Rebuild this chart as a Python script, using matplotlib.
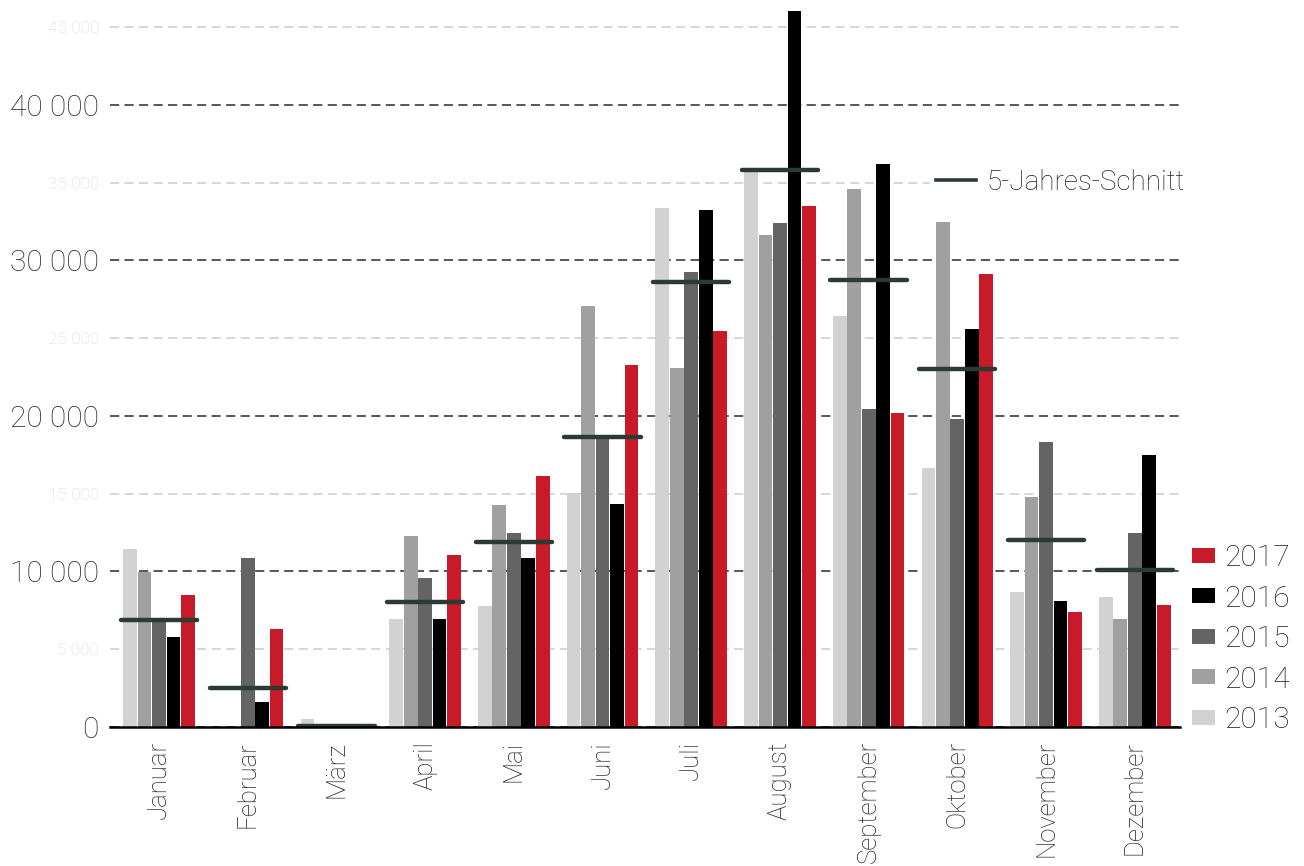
import matplotlib
matplotlib.use("Agg")
import matplotlib.pyplot as plt
from matplotlib.lines import Line2D
from matplotlib.ticker import FuncFormatter, MultipleLocator
import numpy as np

months = ["Januar", "Februar", "März", "April", "Mai", "Juni", "Juli",
          "August", "September", "Oktober", "November", "Dezember"]
years = ["2013", "2014", "2015", "2016", "2017"]

v2013 = [11450, 0, 510, 6950, 7780, 15050, 33380, 35700, 26430, 16660, 8680, 8360]
v2014 = [9970, 0, 0, 12280, 14280, 27070, 23090, 31640, 34600, 32480, 14790, 6950]
v2015 = [6840, 10870, 0, 9580, 12480, 18600, 29260, 32410, 20450, 19810, 18330, 12480]
v2016 = [5810, 1610, 0, 6950, 10870, 14340, 33250, 46050, 36210, 25600, 8100, 17490]
v2017 = [8490, 6300, 0, 11060, 16140, 23280, 25470, 33500, 20190, 29130, 7400, 7850]
avg5 = [6880, 2530, 60, 8040, 11880, 18630, 28600, 35820, 28750, 23020, 12030, 10070]

series = [v2013, v2014, v2015, v2016, v2017]
colors = ["#d2d2d2", "#a0a0a0", "#646464", "#000000", "#c81a28"]
avg_color = "#2b3a33"

plt.rcParams["font.family"] = ["Roboto", "DejaVu Sans"]
plt.rcParams["font.weight"] = "light"

fig = plt.figure(figsize=(13.04, 8.66), dpi=100)
ax = fig.add_axes([110 / 1304, 1 - 727 / 866, 1070 / 1304, 720 / 866])

x = np.arange(len(months))
step = 0.163
width = 0.155
bars = []
for j, (vals, col) in enumerate(zip(series, colors)):
    b = ax.bar(x + (j - 2) * step, vals, width=width, color=col, zorder=3,
               linewidth=0)
    bars.append(b)

avg_lines = ax.hlines(avg5, x - 0.43, x + 0.43, colors=avg_color,
                      linewidth=3.2, zorder=4)
avg_lines.set_capstyle("round")

ax.set_xlim(-0.552, 11.51)
ax.set_ylim(0, 46300)

# y axis: labelled major ticks every 10 000, faint minor ticks in between
ax.yaxis.set_major_locator(MultipleLocator(10000))
ax.yaxis.set_minor_locator(MultipleLocator(5000))
fmt = FuncFormatter(lambda v, p: "0" if v == 0 else f"{int(v):,}".replace(",", " "))
ax.yaxis.set_major_formatter(fmt)
ax.yaxis.set_minor_formatter(FuncFormatter(
    lambda v, p: "" if v % 10000 == 0 else f"{int(v):,}".replace(",", " ")))
ax.tick_params(axis="y", which="major", length=0, pad=8, labelsize=21.5,
               labelcolor="#2a2a2a")
ax.tick_params(axis="y", which="minor", length=0, pad=8, labelsize=12.5,
               labelcolor="#d8d8d8")

ax.grid(axis="y", which="major", linestyle=(0, (6, 3.5)), color="#2a2a2a",
        linewidth=1.1, zorder=0)
ax.grid(axis="y", which="minor", linestyle=(0, (6, 3.5)), color="#cccccc",
        linewidth=1.1, zorder=0)
ax.set_axisbelow(True)

ax.set_xticks(x)
ax.set_xticklabels(months, rotation=90, fontsize=18.5, color="#222222")
ax.tick_params(axis="x", length=0, pad=10)

for s in ["top", "right", "left"]:
    ax.spines[s].set_visible(False)
ax.spines["bottom"].set_color("#000000")
ax.spines["bottom"].set_linewidth(1.8)
ax.spines["bottom"].set_zorder(5)

# legends
year_handles = [bars[j] for j in range(4, -1, -1)]
year_labels = [years[j] for j in range(4, -1, -1)]
leg_years = fig.legend(year_handles, year_labels, loc="upper left",
                       bbox_to_anchor=(1192 / 1304, 1 - 544 / 866),
                       frameon=False, fontsize=21.5, handlelength=0.78,
                       handleheight=0.4, handletextpad=0.3,
                       labelspacing=0.42, borderpad=0, borderaxespad=0)
for t in leg_years.get_texts():
    t.set_color("#222222")

avg_handle = Line2D([], [], color=avg_color, linewidth=2.6)
leg_avg = ax.legend([avg_handle], ["5-Jahres-Schnitt"], loc="center left",
                    frameon=True, fontsize=20, handlelength=1.45,
                    handletextpad=0.4, borderpad=0.2, borderaxespad=0)
leg_avg.set_bbox_to_anchor((930 / 1304, 1 - 182 / 866), transform=fig.transFigure)
leg_avg.get_frame().set_facecolor("white")
leg_avg.get_frame().set_edgecolor("none")
leg_avg.get_frame().set_alpha(1)
leg_avg.set_zorder(6)
for t in leg_avg.get_texts():
    t.set_color("#222222")

fig.savefig("out.png", dpi=100, facecolor="white")
